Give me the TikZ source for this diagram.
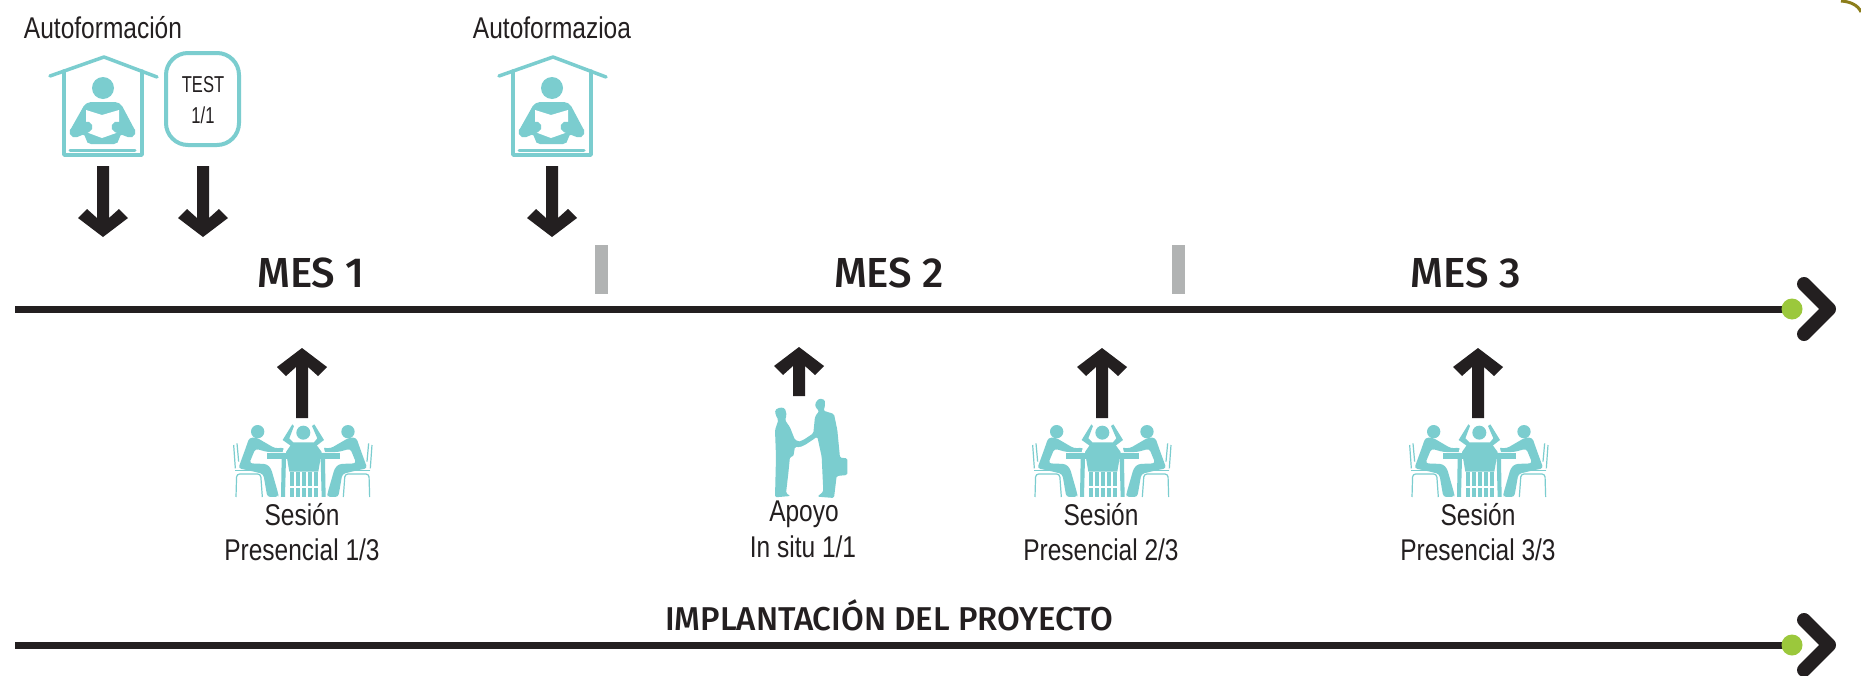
\documentclass[tikz,border=0pt]{standalone}
\usepackage{fontspec}
\setmainfont[FakeStretch=0.817]{Liberation Sans}
\newfontfamily\headfont{Fira Sans Medium}
\newfontfamily\narrowfont[FakeStretch=0.72]{Liberation Sans}
\definecolor{teal1}{HTML}{7BCDCF}
\definecolor{ink}{HTML}{231F20}
\definecolor{bar}{HTML}{B1B3B3}
\definecolor{dot}{HTML}{9BC83C}
\definecolor{olive}{HTML}{8C7D1A}
\tikzset{
  lbl/.style={inner sep=0pt,text=ink,font=\fontsize{30}{30}\selectfont,align=center},
  small/.style={inner sep=0pt,text=ink,font=\narrowfont\fontsize{23}{23}\selectfont},
  head/.style={inner sep=0pt,text=ink,font=\headfont\fontsize{42}{42}\selectfont},
  headb/.style={inner sep=0pt,text=ink,font=\headfont\fontsize{33}{33}\selectfont},
  timeline/.style={draw=ink,line width=7pt},
  chev/.style={draw=ink,line width=14pt,line cap=round,line join=round},
  tealfill/.style={fill=teal1,draw=none},
  tealline/.style={draw=teal1,line join=round,line cap=round}
}
\newcommand{\arrowshape}[4]{% x, tip y, length, yscale
  \fill[ink,shift={(#1,#2)},yscale=#4] (0,0)--(25,-19)--(16,-28)--(6,-19)--(6,-#3)--(-6,-#3)--(-6,-19)--(-16,-28)--(-25,-19)--cycle;}
\newcommand{\houseicon}[1]{%
  \begin{scope}[shift={(#1,0)}]
    \draw[tealline,line width=3.5pt] (50,76)--(104,57)--(157,77);
    \draw[tealline,line width=3.5pt] (64,71)--(64,155)--(142,155)--(142,71);
    \draw[tealline,line width=3pt] (70,150)--(135,150);
    \fill[teal1] (103,88) circle (11);
    \fill[teal1,rounded corners=5pt] (86,102)--(120,102)--(137,134)--(119,134)--(119,144)--(86,144)--(86,134)--(68,134)--cycle;
    \fill[white] (86,110)--(102,115)--(119,110)--(119,132)--(102,138)--(86,132)--cycle;
    \draw[teal1,line width=11pt,line cap=round] (75,132)--(87,127);
    \draw[teal1,line width=11pt,line cap=round] (130,132)--(117,127);
  \end{scope}}
\newcommand{\sideperson}{%
  \fill[teal1] (143,95) circle (20);
  \fill[teal1,rounded corners=3pt] (118,113)--(140,113)--(195,145)--(222,143)--(232,156)--(172,156)--(136,146)--(118,190)--(170,192)--(183,205)--(205,282)--(205,291)--(172,291)--(160,222)--(120,212)--(85,205)--(105,150)--cycle;
  \draw[teal1,line width=1.2pt] (71,135)--(76,205);
  \draw[teal1,line width=1.2pt] (81,130)--(86,185);
  \draw[teal1,line width=1.2pt,rounded corners=3pt] (78,291)--(80,222)--(152,222)--(157,291);
  \draw[teal1,line width=1.6pt] (76,212)--(155,212);
}
\newcommand{\meetingicon}[1]{%
  \begin{scope}[shift={(#1,400)},x=0.3333pt,y=-0.3333pt]
    \sideperson
    \begin{scope}[shift={(557,0)},xscale=-1]\sideperson\end{scope}
    \fill[teal1] (280,98) circle (21);
    \fill[teal1] (170,158) rectangle (390,176);
    \fill[teal1] (215,176)--(228,176)--(225,291)--(213,291)--cycle;
    \fill[teal1] (332,176)--(345,176)--(347,291)--(335,291)--cycle;
    \fill[white] (228,118)--(250,122)--(312,122)--(335,118)--(345,157)--(218,157)--cycle;
    \fill[teal1] (248,127)--(314,127)--(335,156)--(325,215)--(238,215)--(228,156)--cycle;
    \fill[teal1] (218,120)--(247,73)--(252,78)--(238,115)--(250,127)--(246,140)--cycle;
    \fill[teal1] (342,120)--(313,73)--(306,78)--(322,115)--(312,127)--(316,140)--cycle;
    \foreach \xa/\xb in {240/252,257/270,275/288,293/306,311/323}{
      \fill[teal1] (\xa,215) rectangle (\xb,291);}
    \fill[white] (238,258) rectangle (325,263);
  \end{scope}}
\newcommand{\handshakeicon}{%
  \begin{scope}[shift={(730,340)},x=0.3333pt,y=-0.3333pt]
    \fill[teal1,rounded corners=1.5pt] (135,210)--(150,202)--(165,205)--(170,225)--(165,240)--(180,262)--(195,300)--(205,303)--(222,310)--(210,322)--(195,320)--(190,350)--(180,350)--(175,400)--(168,460)--(182,468)--(135,472)--(138,350)--(135,270)--(145,240)--(137,225)--cycle;
    \fill[teal1,rounded corners=1.5pt] (255,190)--(268,175)--(285,180)--(285,200)--(280,212)--(312,222)--(322,270)--(330,353)--(352,355)--(352,405)--(320,408)--(312,474)--(262,470)--(280,455)--(275,350)--(262,290)--(225,315)--(208,322)--(205,305)--(220,300)--(250,280)--(255,230)--(268,212)--(258,205)--cycle;
  \end{scope}}
\begin{document}
\begin{tikzpicture}[x=1pt,y=-1pt]
\useasboundingbox (0,0) rectangle (1861,675);
\fill[white] (0,0) rectangle (1861,675);
% corner
\draw[olive,line width=3pt] (1841,1) .. controls (1850,1.5) and (1858,5) .. (1861,12);
% timelines
\coordinate (t1s) at (15,309);
\coordinate (t1e) at (1792,309);
\coordinate (t2s) at (15,645);
\coordinate (t2e) at (1792,645);
\draw[timeline] (t1s) -- (t1e);
\draw[timeline] (t2s) -- (t2e);
\foreach \y in {309,645}{
  \draw[chev] (1804,\y-25) -- (1829,\y) -- (1804,\y+25);
  \fill[dot] (1792,\y) circle (10.5);
}
% bars
\fill[bar] (595,245) rectangle (608,294);
\fill[bar] (1172,245) rectangle (1185,294);
% headings
\node[head] (mes1) at (311,273) {MES 1};
\node[head] (mes2) at (889,273) {MES 2};
\node[head] (mes3) at (1466,273) {MES 3};
\node[headb] (impl) at (889,615) {IMPLANTACIÓN DEL PROYECTO};
% top
\node[lbl] (auto1) at (103,28) {Autoformación};
\node[lbl] (auto2) at (552,28) {Autoformazioa};
\houseicon{0}
\houseicon{449}
\node[draw=teal1,line width=4pt,rounded corners=22pt,minimum width=73pt,minimum height=92pt,inner sep=0pt] (test) at (202.5,99) {};
\node[small] (testa) at (203,85) {TEST};
\node[small] (testb) at (203,115) {1/1};
\arrowshape{103}{237}{71}{1}
\arrowshape{203}{237}{71}{1}
\arrowshape{552}{237}{71}{1}
% bottom
\arrowshape{302}{348}{70}{-1}
\arrowshape{799}{347}{49}{-1}
\arrowshape{1102}{348}{70}{-1}
\arrowshape{1478}{348}{70}{-1}
\meetingicon{210}
\meetingicon{1009}
\meetingicon{1386}
\handshakeicon
\node[lbl] (s1) at (302,515) {Sesión};
\node[lbl] (p1) at (302,550) {Presencial 1/3};
\node[lbl] (a1) at (804,514) {Apoyo};
\node[lbl] (a2) at (803,547) {In situ 1/1};
\node[lbl] (s2) at (1101,515) {Sesión};
\node[lbl] (p2) at (1101,550) {Presencial 2/3};
\node[lbl] (s3) at (1478,515) {Sesión};
\node[lbl] (p3) at (1478,550) {Presencial 3/3};
\end{tikzpicture}
\end{document}
